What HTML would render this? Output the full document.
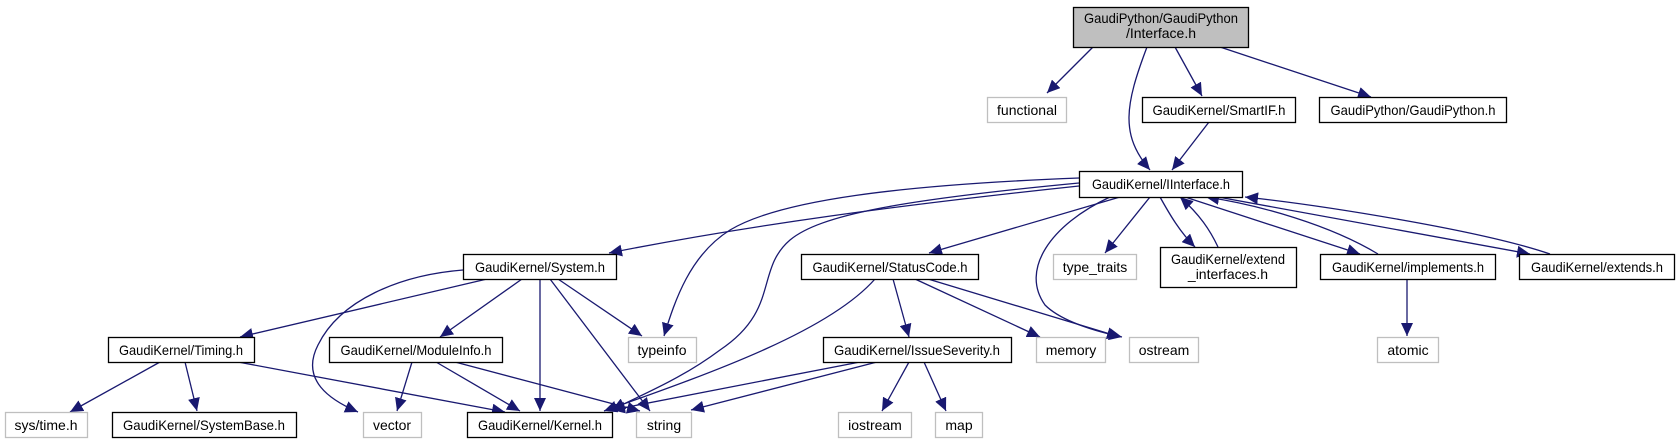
<!DOCTYPE html>
<html><head><meta charset="utf-8"><style>
html,body{margin:0;padding:0;background:#fff;}
svg{display:block;}
text{font-family:"Liberation Sans",sans-serif;font-size:14px;fill:#000;}
</style></head><body>
<svg width="1680" height="443" viewBox="0 0 1680 443" xmlns="http://www.w3.org/2000/svg">
<defs>
<marker id="a" markerWidth="14" markerHeight="12" refX="13" refY="6" orient="auto" markerUnits="userSpaceOnUse">
<path d="M0,0 L13,6 L0,12 Z" fill="#191970"/>
</marker>
</defs>
<g fill="none" stroke="#191970" stroke-width="1.3" marker-end="url(#a)">
<path d="M1093,47 L1047,93"/>
<path d="M1147,47 C1125,105 1120,135 1150,170"/>
<path d="M1175,47 L1202,96"/>
<path d="M1220,47 L1371,97"/>
<path d="M1209,122 L1172,170"/>
<path d="M1079,186 C900,205 750,225 609,253"/>
<path d="M1079,178 C900,185 780,200 730,230 C690,255 675,300 664,336"/>
<path d="M1079,183 C900,200 820,215 790,240 C755,270 780,310 720,350 C680,380 640,395 612,410"/>
<path d="M1120,197 L929,253"/>
<path d="M1110,197 C1050,225 1020,270 1045,305 C1060,320 1090,330 1122,337"/>
<path d="M1150,197 L1105,253"/>
<path d="M1160,197 C1170,215 1180,232 1195,247"/>
<path d="M1218,247 C1210,230 1200,215 1180,197"/>
<path d="M1185,197 L1360,254"/>
<path d="M1378,254 C1330,225 1260,205 1206,197"/>
<path d="M1218,197 L1530,254"/>
<path d="M1550,254 C1480,230 1320,205 1245,197"/>
<path d="M487,279 L240,337"/>
<path d="M463,270 C400,275 340,300 318,345 C300,380 330,400 358,412"/>
<path d="M522,279 L440,337"/>
<path d="M540,279 L540,411"/>
<path d="M550,279 L650,411"/>
<path d="M558,279 L642,336"/>
<path d="M160,362 L70,412"/>
<path d="M185,362 L197,411"/>
<path d="M238,362 L505,412"/>
<path d="M412,362 L397,411"/>
<path d="M436,362 L520,411"/>
<path d="M455,362 L640,411"/>
<path d="M875,279 C830,330 720,370 604,411"/>
<path d="M893,279 L909,337"/>
<path d="M915,279 L1040,337"/>
<path d="M928,279 L1120,337"/>
<path d="M860,362 L612,410"/>
<path d="M877,362 L691,410"/>
<path d="M909,362 L882,411"/>
<path d="M924,362 L946,411"/>
<path d="M1407,280 L1407,336"/>
</g>
<g stroke-width="1.3">
<rect x="1073.5" y="7.5" width="175" height="40" fill="#bfbfbf" stroke="#000"/>
<rect x="987.5" y="97.5" width="79" height="25" fill="#fff" stroke="#bfbfbf"/>
<rect x="1142.5" y="97.5" width="153" height="25" fill="#fff" stroke="#000"/>
<rect x="1319.5" y="97.5" width="187" height="25" fill="#fff" stroke="#000"/>
<rect x="1079.5" y="171.5" width="163" height="26" fill="#fff" stroke="#000"/>
<rect x="463.5" y="254.5" width="153" height="25" fill="#fff" stroke="#000"/>
<rect x="801.5" y="254.5" width="177" height="25" fill="#fff" stroke="#000"/>
<rect x="1053.5" y="254.5" width="83" height="25" fill="#fff" stroke="#bfbfbf"/>
<rect x="1160.5" y="247.5" width="136" height="40" fill="#fff" stroke="#000"/>
<rect x="1320.5" y="254.5" width="175" height="25" fill="#fff" stroke="#000"/>
<rect x="1519.5" y="254.5" width="155" height="25" fill="#fff" stroke="#000"/>
<rect x="108.5" y="337.5" width="146" height="25" fill="#fff" stroke="#000"/>
<rect x="329.5" y="337.5" width="173" height="25" fill="#fff" stroke="#000"/>
<rect x="628.5" y="337.5" width="68" height="25" fill="#fff" stroke="#bfbfbf"/>
<rect x="823.5" y="337.5" width="188" height="25" fill="#fff" stroke="#000"/>
<rect x="1036.5" y="337.5" width="69" height="25" fill="#fff" stroke="#bfbfbf"/>
<rect x="1129.5" y="337.5" width="69" height="25" fill="#fff" stroke="#bfbfbf"/>
<rect x="1377.5" y="337.5" width="61" height="25" fill="#fff" stroke="#bfbfbf"/>
<rect x="5.5" y="412.5" width="82" height="25" fill="#fff" stroke="#bfbfbf"/>
<rect x="112.5" y="412.5" width="184" height="25" fill="#fff" stroke="#000"/>
<rect x="363.5" y="412.5" width="58" height="25" fill="#fff" stroke="#bfbfbf"/>
<rect x="467.5" y="412.5" width="145" height="25" fill="#fff" stroke="#000"/>
<rect x="636.5" y="412.5" width="55" height="25" fill="#fff" stroke="#bfbfbf"/>
<rect x="838.5" y="412.5" width="73" height="25" fill="#fff" stroke="#bfbfbf"/>
<rect x="935.5" y="412.5" width="47" height="25" fill="#fff" stroke="#bfbfbf"/>
</g>
<g text-anchor="middle">
<text x="1161" y="23" textLength="154" lengthAdjust="spacingAndGlyphs">GaudiPython/GaudiPython</text>
<text x="1161" y="38">/Interface.h</text>
<text x="1027" y="115">functional</text>
<text x="1219" y="115" textLength="133" lengthAdjust="spacingAndGlyphs">GaudiKernel/SmartIF.h</text>
<text x="1413" y="115" textLength="165" lengthAdjust="spacingAndGlyphs">GaudiPython/GaudiPython.h</text>
<text x="1161" y="189" textLength="138" lengthAdjust="spacingAndGlyphs">GaudiKernel/IInterface.h</text>
<text x="540" y="272" textLength="130" lengthAdjust="spacingAndGlyphs">GaudiKernel/System.h</text>
<text x="890" y="272" textLength="155" lengthAdjust="spacingAndGlyphs">GaudiKernel/StatusCode.h</text>
<text x="1095" y="272">type_traits</text>
<text x="1228" y="264" textLength="114" lengthAdjust="spacingAndGlyphs">GaudiKernel/extend</text>
<text x="1228" y="279">_interfaces.h</text>
<text x="1408" y="272" textLength="152" lengthAdjust="spacingAndGlyphs">GaudiKernel/implements.h</text>
<text x="1597" y="272" textLength="132" lengthAdjust="spacingAndGlyphs">GaudiKernel/extends.h</text>
<text x="181" y="355" textLength="124" lengthAdjust="spacingAndGlyphs">GaudiKernel/Timing.h</text>
<text x="416" y="355" textLength="151" lengthAdjust="spacingAndGlyphs">GaudiKernel/ModuleInfo.h</text>
<text x="662" y="355">typeinfo</text>
<text x="917" y="355" textLength="166" lengthAdjust="spacingAndGlyphs">GaudiKernel/IssueSeverity.h</text>
<text x="1071" y="355">memory</text>
<text x="1164" y="355">ostream</text>
<text x="1408" y="355">atomic</text>
<text x="46" y="430">sys/time.h</text>
<text x="204" y="430" textLength="162" lengthAdjust="spacingAndGlyphs">GaudiKernel/SystemBase.h</text>
<text x="392" y="430">vector</text>
<text x="540" y="430" textLength="124" lengthAdjust="spacingAndGlyphs">GaudiKernel/Kernel.h</text>
<text x="664" y="430">string</text>
<text x="875" y="430">iostream</text>
<text x="959" y="430">map</text>
</g>
</svg>
</body></html>
